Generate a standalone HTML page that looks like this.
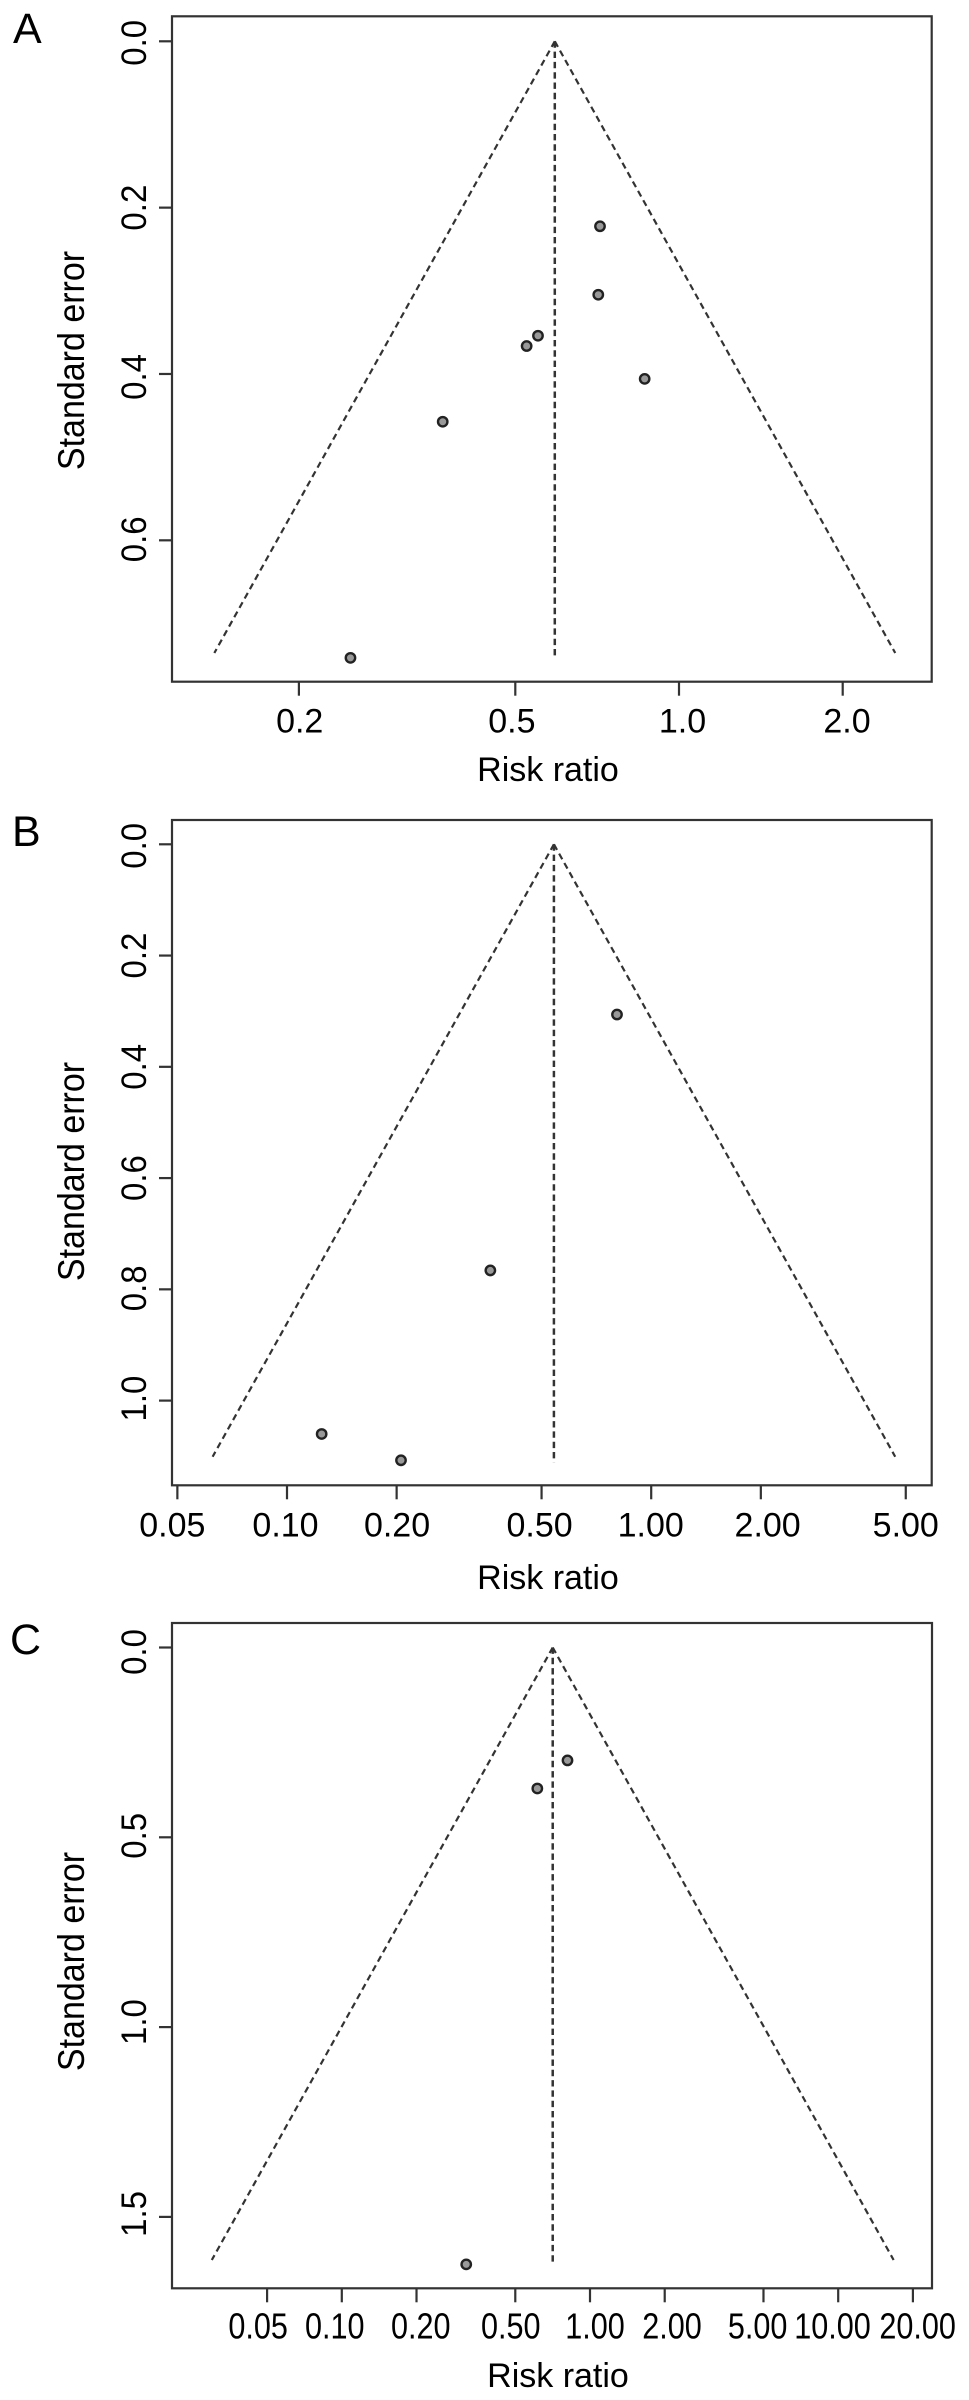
<!DOCTYPE html>
<html lang="en">
<head>
<meta charset="utf-8">
<title>Funnel plots A, B and C</title>
<style>
  html, body { margin: 0; padding: 0; background: #fff; }
  body { width: 969px; height: 2400px; overflow: hidden; }
  svg { display: block; }
  text { font-family: "Liberation Sans", sans-serif; fill: #000; }
  .panel-letter { font-size: 43px; }
  .axis-title { font-size: 34px; text-anchor: middle; }
  .tick-label { font-size: 34px; text-anchor: middle; }
</style>
</head>
<body>
<svg id="figure" width="969" height="2400" viewBox="0 0 969 2400" xmlns="http://www.w3.org/2000/svg">
  <rect x="0" y="0" width="969" height="2400" fill="#fff"/>

  <g id="panel-a">
    <text class="panel-letter" x="13" y="43">A</text>
    <text class="axis-title" x="548" y="781">Risk ratio</text>
    <text class="axis-title" transform="translate(84 360.5) rotate(-90) scale(1 1.08)">Standard error</text>
  </g>

  <g id="panel-b">
    <text class="panel-letter" x="12" y="846">B</text>
    <text class="axis-title" x="548" y="1589">Risk ratio</text>
    <text class="axis-title" transform="translate(84 1171.5) rotate(-90) scale(1 1.08)">Standard error</text>
  </g>

  <g id="panel-c">
    <text class="panel-letter" x="10" y="1654">C</text>
    <text class="axis-title" x="558" y="2387">Risk ratio</text>
    <text class="axis-title" transform="translate(84 1961.5) rotate(-90) scale(1 1.08)">Standard error</text>
  </g>
</svg>

<script>
// ---- Panel A data ----
const aRiskRatio = [0.7157, 0.7105, 0.5504, 0.5246, 0.8647, 0.3677, 0.2488];
const aStdError = [0.2224, 0.3047, 0.3540, 0.3664, 0.4059, 0.4574, 0.7413];
const aPooled = 0.591;
const aFunnelSe = 0.7355;
const aCentreSe = 0.7427;
const aXTicks = [0.2, 0.5, 1, 2];
const aXTickLabels = ["0.2", "0.5", "1.0", "2.0"];
const aYTicks = [0, 0.2, 0.4, 0.6];
const aYTickLabels = ["0.0", "0.2", "0.4", "0.6"];

// ---- Panel B data ----
const bRiskRatio = [0.8055, 0.3617, 0.1245, 0.2056];
const bStdError = [0.3060, 0.7660, 1.0600, 1.1073];
const bPooled = 0.5406;
const bFunnelSe = 1.1009;
const bCentreSe = 1.111;
const bXTicks = [0.05, 0.1, 0.2, 0.5, 1, 2, 5];
const bXTickLabels = ["0.05", "0.10", "0.20", "0.50", "1.00", "2.00", "5.00"];
const bYTicks = [0, 0.2, 0.4, 0.6, 0.8, 1];
const bYTickLabels = ["0.0", "0.2", "0.4", "0.6", "0.8", "1.0"];

// ---- Panel C data ----
const cRiskRatio = [0.8116, 0.6134, 0.3172];
const cStdError = [0.2974, 0.3714, 1.6251];
const cPooled = 0.7076;
const cFunnelSe = 1.6136;
const cCentreSe = 1.622;
const cXTicks = [0.05, 0.1, 0.2, 0.5, 1, 2, 5, 10, 20];
const cXTickLabels = ["0.05", "0.10", "0.20", "0.50", "1.00", "2.00", "5.00", "10.00", "20.00"];
const cYTicks = [0, 0.5, 1, 1.5];
const cYTickLabels = ["0.0", "0.5", "1.0", "1.5"];

const Z_95 = 1.96;
const NS = "http://www.w3.org/2000/svg";
const INK = "#333";

function make(tag, attrs, parent) {
  const el = document.createElementNS(NS, tag);
  Object.keys(attrs).forEach(function (k) { el.setAttribute(k, attrs[k]); });
  parent.appendChild(el);
  return el;
}

function drawPanel(cfg) {
  const root = document.getElementById(cfg.id);
  const L = cfg.layout;

  // Axis functions: log10 risk ratio horizontally, standard error vertically.
  const xScale = function (rr) { return L.xAtOne + Math.log10(rr) * L.pxPerDecade; };
  const yScale = function (se) { return L.yAtZero + se * L.pxPerSe; };

  const box = make("rect", {
    x: L.left, y: L.top, width: L.right - L.left, height: L.bottom - L.top,
    fill: "none", stroke: INK, "stroke-width": 2.2
  }, root);
  
  

  // X axis ticks and labels
  cfg.xTicks.forEach(function (v, i) {
    const tick = make("line", {
      x1: xScale(v), x2: xScale(v), y1: L.bottom, y2: L.bottom + 14,
      stroke: INK, "stroke-width": 2.2
    }, root);
    
    

    const cx = xScale(v) + L.xLabelNudge[i];
    const label = make("text", {
      class: "tick-label",
      style: "font-size:" + L.xLabelFont + "px",
      transform: "translate(" + cx + " " + L.xLabelBaseline + ") scale(" + L.xLabelSqueeze + " 1)"
    }, root);
    
    
    label.textContent = cfg.xTickLabels[i];
  });

  // Y axis ticks and labels
  cfg.yTicks.forEach(function (v, i) {
    const tick = make("line", {
      x1: L.left - 13, x2: L.left, y1: yScale(v), y2: yScale(v),
      stroke: INK, "stroke-width": 2.2
    }, root);
    
    

    const cy = yScale(v) + L.yLabelNudge[i];
    const label = make("text", {
      class: "tick-label",
      style: "font-size:33px",
      transform: "translate(146 " + cy + ") rotate(-90) scale(1 1.08)"
    }, root);
    
    
    label.textContent = cfg.yTickLabels[i];
  });

  // Funnel: pseudo 95% limits around the pooled estimate
  const apexX = xScale(cfg.pooled);
  const apexY = yScale(0);
  const lowerRR = Math.exp(Math.log(cfg.pooled) - Z_95 * cfg.funnelSe);
  const upperRR = Math.exp(Math.log(cfg.pooled) + Z_95 * cfg.funnelSe);

  const leftLimit = make("line", {
    x1: apexX, y1: apexY, x2: xScale(lowerRR), y2: yScale(cfg.funnelSe),
    stroke: INK, "stroke-width": 2.2, "stroke-dasharray": "6.4 4.3"
  }, root);
  
  

  const rightLimit = make("line", {
    x1: apexX, y1: apexY, x2: xScale(upperRR), y2: yScale(cfg.funnelSe),
    stroke: INK, "stroke-width": 2.2, "stroke-dasharray": "6.4 4.3"
  }, root);
  
  

  const centre = make("line", {
    x1: apexX, y1: apexY, x2: apexX, y2: yScale(cfg.centreSe),
    stroke: INK, "stroke-width": 2.5, "stroke-dasharray": "6.4 3.9"
  }, root);
  
  

  // Study points
  cfg.riskRatio.forEach(function (rr, i) {
    const pt = make("circle", {
      cx: xScale(rr), cy: yScale(cfg.stdError[i]), r: 4.7,
      fill: "#999", stroke: "#222", "stroke-width": 2.4
    }, root);
    
    
  });
}

drawPanel({
  id: "panel-a",
  riskRatio: aRiskRatio, stdError: aStdError, pooled: aPooled,
  funnelSe: aFunnelSe, centreSe: aCentreSe,
  xTicks: aXTicks, xTickLabels: aXTickLabels,
  yTicks: aYTicks, yTickLabels: aYTickLabels,
  layout: {
    left: 172, right: 931.7, top: 16.3, bottom: 681.7,
    xAtOne: 679, pxPerDecade: 543.8, yAtZero: 41.3, pxPerSe: 831.7,
    xLabelBaseline: 732.7, xLabelSqueeze: 1, xLabelFont: 34,
    xLabelNudge: [0.8, -3.4, 3.5, 4.3],
    yLabelNudge: [1.5, 0, 3, -1]
  }
});

drawPanel({
  id: "panel-b",
  riskRatio: bRiskRatio, stdError: bStdError, pooled: bPooled,
  funnelSe: bFunnelSe, centreSe: bCentreSe,
  xTicks: bXTicks, xTickLabels: bXTickLabels,
  yTicks: bYTicks, yTickLabels: bYTickLabels,
  layout: {
    left: 172, right: 931.7, top: 820, bottom: 1485.3,
    xAtOne: 651.2, pxPerDecade: 364.2, yAtZero: 844.3, pxPerSe: 556.3,
    xLabelBaseline: 1536.7, xLabelSqueeze: 1, xLabelFont: 34,
    xLabelNudge: [-5, -1.5, 0.4, -2, -0.5, 6.8, 0],
    yLabelNudge: [1.5, 0, 0, 0, -1, -2]
  }
});

drawPanel({
  id: "panel-c",
  riskRatio: cRiskRatio, stdError: cStdError, pooled: cPooled,
  funnelSe: cFunnelSe, centreSe: cCentreSe,
  xTicks: cXTicks, xTickLabels: cXTickLabels,
  yTicks: cYTicks, yTickLabels: cYTickLabels,
  layout: {
    left: 172, right: 932, top: 1623, bottom: 2288.3,
    xAtOne: 590, pxPerDecade: 248.2, yAtZero: 1647.5, pxPerSe: 379.6,
    xLabelBaseline: 2338.3, xLabelSqueeze: 0.85, xLabelFont: 36,
    xLabelNudge: [-9, -7, 4.2, -4.5, 5, 7.3, -5.9, -5.7, 4.7],
    yLabelNudge: [4.5, -1.5, -5, -3]
  }
});
</script>
</body>
</html>
